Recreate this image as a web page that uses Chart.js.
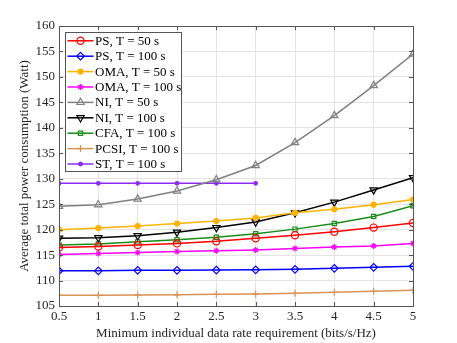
<!DOCTYPE html>
<html>
<head>
<meta charset="utf-8">
<script src="https://cdn.jsdelivr.net/npm/chart.js@4/dist/chart.umd.min.js"></script>
<style>
  html, body { margin:0; padding:0; background:#fff; }
  #wrap { width:457px; height:343px; }
</style>
</head>
<body>
<div id="wrap"><canvas id="powerChart" width="457" height="343"></canvas></div>
<script>
// rate requirement (bits/s/Hz) on x, total power (Watt) on y
const rates   = [0.5, 1, 1.5, 2, 2.5, 3, 3.5, 4, 4.5, 5];
const ps50    = [116.5, 116.7, 117.0, 117.3, 117.7, 118.3, 118.9, 119.6, 120.4, 121.3];
const ps100   = [111.9, 111.9, 112.0, 112.0, 112.05, 112.1, 112.2, 112.4, 112.6, 112.8];
const oma50   = [120.0, 120.3, 120.7, 121.2, 121.7, 122.3, 123.3, 124.0, 124.9, 125.9];
const oma100  = [115.1, 115.3, 115.5, 115.7, 115.85, 116.0, 116.3, 116.6, 116.8, 117.3];
const ni50    = [124.6, 124.9, 126.0, 127.6, 129.8, 132.6, 137.1, 142.4, 148.3, 154.5];
const ni100   = [118.3, 118.4, 118.8, 119.5, 120.4, 121.5, 123.3, 125.4, 127.8, 130.2];
const cfa100  = [117.0, 117.2, 117.6, 118.0, 118.5, 119.2, 120.1, 121.2, 122.6, 124.7];
const pcsi100 = [107.1, 107.1, 107.15, 107.2, 107.3, 107.35, 107.5, 107.7, 107.9, 108.1];
const st100   = [129.1, 129.1, 129.1, 129.1, 129.1, 129.1];

const FONT = "'Liberation Serif', 'Times New Roman', serif";
const INK = "#262626";

function series(label, values, color, style, radius, filled, rotation){
  return {
    label: label,
    data: values.map((v, i) => ({x: rates[i], y: v})),
    borderColor: color,
    backgroundColor: color,
    borderWidth: 1.5,
    pointStyle: style,
    pointRadius: radius,
    pointRotation: rotation || 0,
    pointBorderWidth: 1.2,
    pointBorderColor: color,
    pointBackgroundColor: filled ? color : "rgba(0,0,0,0)",
    tension: 0
  };
}

const datasets = [
  series("PS, T = 50 s", ps50, "#ff0000", "circle", 3.6, false),
  series("PS, T = 100 s", ps100, "#0000ff", "rectRot", 3.8, false),
  series("OMA, T = 50 s", oma50, "#ffb300", "circle", 2.5, true),
  series("OMA, T = 100 s", oma100, "#ff00ff", "star", 3, false),
  series("NI, T = 50 s", ni50, "#808080", "triangle", 4.2, false),
  series("NI, T = 100 s", ni100, "#000000", "triangle", 4.2, false, 180),
  series("CFA, T = 100 s", cfa100, "#1a8c1a", "rect", 3, false),
  series("PCSI, T = 100 s", pcsi100, "#d99254", "cross", 3.5, false),
  series("ST, T = 100 s", st100, "#8b2cf5", "circle", 1.8, true)
];

// box around the plot, inward ticks, and the legend inside the plot area
const frame = {
  id: "frame",
  afterDatasetsDraw(chart){
    const ctx = chart.ctx, a = chart.chartArea;
    const xs = chart.scales.x, ys = chart.scales.y;
    ctx.save();
    ctx.strokeStyle = "#555";
    ctx.lineWidth = 1;
    ctx.strokeRect(Math.round(a.left) + 0.5, Math.round(a.top) + 0.5,
                   Math.round(a.right - a.left), Math.round(a.bottom - a.top));
    ctx.beginPath();
    xs.ticks.forEach(t => {
      const px = Math.round(xs.getPixelForValue(t.value)) + 0.5;
      ctx.moveTo(px, a.bottom); ctx.lineTo(px, a.bottom - 4);
      ctx.moveTo(px, a.top); ctx.lineTo(px, a.top + 4);
    });
    ys.ticks.forEach(t => {
      const py = Math.round(ys.getPixelForValue(t.value)) + 0.5;
      ctx.moveTo(a.left, py); ctx.lineTo(a.left + 4, py);
      ctx.moveTo(a.right, py); ctx.lineTo(a.right - 4, py);
    });
    ctx.stroke();

    // legend
    const bx = a.left + 6.5, by = a.top + 6.5, bw = 116, bh = 139, rowH = 15.4;
    ctx.fillStyle = "#fff";
    ctx.fillRect(bx, by, bw, bh);
    ctx.strokeStyle = "#555";
    ctx.lineWidth = 1;
    ctx.strokeRect(bx, by, bw, bh);
    ctx.font = "13px " + FONT;
    ctx.textBaseline = "middle";
    ctx.textAlign = "left";
    chart.data.datasets.forEach((ds, i) => {
      const y = by + 8.3 + i * rowH;
      ctx.strokeStyle = ds.borderColor;
      ctx.lineWidth = ds.borderWidth;
      ctx.beginPath();
      ctx.moveTo(bx + 2, y); ctx.lineTo(bx + 28, y);
      ctx.stroke();
      if (Chart.helpers && Chart.helpers.drawPoint){
        ctx.fillStyle = ds.pointBackgroundColor;
        ctx.lineWidth = ds.pointBorderWidth;
        Chart.helpers.drawPoint(ctx, {
          pointStyle: ds.pointStyle, radius: ds.pointRadius,
          rotation: ds.pointRotation, borderWidth: ds.pointBorderWidth
        }, bx + 15, y);
      }
      ctx.fillStyle = "#000";
      ctx.fillText(ds.label, bx + 29.5, y + 0.5);
    });
    ctx.restore();
  }
};

new Chart(document.getElementById("powerChart").getContext("2d"), {
  type: "line",
  data: { datasets: datasets },
  options: {
    responsive: false,
    animation: false,
    layout: { padding: { top: 26, right: 44, left: 0, bottom: 0 } },
    plugins: { legend: { display: false }, tooltip: { enabled: false } },
    scales: {
      x: {
        type: "linear", min: 0.5, max: 5,
        afterFit: s => { s.height = 37; },
        ticks: { stepSize: 0.5, padding: 3, color: INK, font: { family: FONT, size: 13 },
                 callback: v => String(v) },
        grid: { color: "#e4e4e4", drawTicks: false },
        border: { display: false },
        title: { display: true, text: "Minimum individual data rate requirement (bits/s/Hz)",
                 color: INK, font: { family: FONT, size: 13 }, padding: { top: 0, bottom: 2 } }
      },
      y: {
        min: 105, max: 160,
        afterFit: s => { s.width = 59; },
        ticks: { stepSize: 5, padding: 4, color: INK, font: { family: FONT, size: 13 } },
        grid: { color: "#e4e4e4", drawTicks: false },
        border: { display: false },
        title: { display: true, text: "Average total power consumption (Watt)",
                 color: INK, font: { family: FONT, size: 13 }, padding: { top: 17, bottom: 0 } }
      }
    }
  },
  plugins: [frame]
});
</script>
</body>
</html>
